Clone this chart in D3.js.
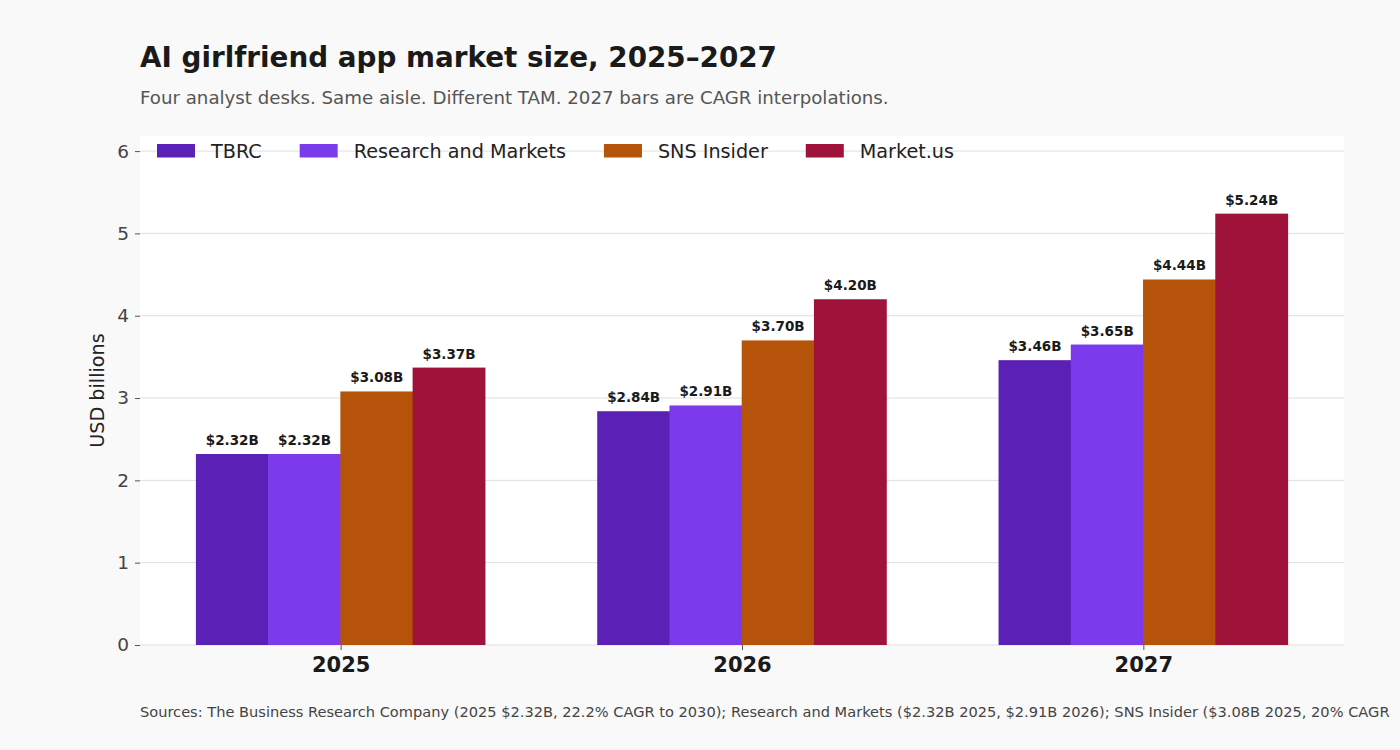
<!DOCTYPE html>
<html><head><meta charset="utf-8">
<script src="https://cdn.jsdelivr.net/npm/d3@7"></script>
<style>
html,body{margin:0;padding:0;background:#f9f9f9;}
svg{display:block;font-family:"DejaVu Sans",sans-serif;}
</style></head>
<body>
<svg id="chart" width="1400" height="750"></svg>
<script>
const years = ["2025", "2026", "2027"];
const seriesNames = ["TBRC", "Research and Markets", "SNS Insider", "Market.us"];
const seriesColors = ["#5b21b6", "#7c3aed", "#b45309", "#9f1239"];
const tbrc = [2.32, 2.84, 3.46];
const researchAndMarkets = [2.32, 2.91, 3.65];
const snsInsider = [3.08, 3.70, 4.44];
const marketUs = [3.37, 4.20, 5.24];
const yTicks = [0, 1, 2, 3, 4, 5, 6];
const titleText = "AI girlfriend app market size, 2025–2027";
const subtitleText = "Four analyst desks. Same aisle. Different TAM. 2027 bars are CAGR interpolations.";
const sourceText = "Sources: The Business Research Company (2025 $2.32B, 22.2% CAGR to 2030); Research and Markets ($2.32B 2025, $2.91B 2026); SNS Insider ($3.08B 2025, 20% CAGR";

const seriesValues = [tbrc, researchAndMarkets, snsInsider, marketUs];

const svg = d3.select("#chart");
const plot = {left: 140, right: 1344, top: 136, bottom: 645};

const x = d3.scaleLinear().domain([-0.5, years.length - 0.5]).range([plot.left, plot.right]);
const y = d3.scaleLinear().domain([0, 5.24 * 1.18]).range([plot.bottom, plot.top]);
const barW = 0.18;

svg.append("rect").attr("x", plot.left).attr("y", plot.top)
  .attr("width", plot.right - plot.left).attr("height", plot.bottom - plot.top)
  .attr("fill", "#ffffff");

// grid
svg.append("g").selectAll("line").data(yTicks).join("line")
  .attr("x1", plot.left).attr("x2", plot.right)
  .attr("y1", d => y(d)).attr("y2", d => y(d))
  .attr("stroke", "#dedede").attr("stroke-width", 1);

// y axis
const yAxis = svg.append("g").attr("transform", `translate(${plot.left},0)`)
  .call(d3.axisLeft(y).tickValues(yTicks).tickSize(5).tickPadding(6).tickFormat(d3.format("d")));
yAxis.select(".domain").remove();
yAxis.selectAll(".tick line").attr("stroke", "#555");
yAxis.selectAll(".tick text").attr("font-size", 18.5).attr("fill", "#444").attr("font-family", "DejaVu Sans");

// x axis
const xAxis = svg.append("g").attr("transform", `translate(0,${plot.bottom})`)
  .call(d3.axisBottom(x).tickValues(years.map((d, i) => i)).tickSize(5).tickPadding(7).tickFormat(i => years[i]));
xAxis.select(".domain").remove();
xAxis.selectAll(".tick line").attr("stroke", "#555");
xAxis.selectAll(".tick text").attr("font-size", 21).attr("font-weight", "bold").attr("fill", "#1a1a1a").attr("font-family", "DejaVu Sans");

// bars
seriesValues.forEach((vals, s) => {
  const offset = (s - 1.5) * barW;
  const g = svg.append("g");
  g.selectAll("rect").data(vals).join("rect")
    .attr("x", (d, i) => x(i + offset - barW / 2) - 0.3)
    .attr("width", x(barW) - x(0) + 0.6)
    .attr("y", d => y(d))
    .attr("height", d => y(0) - y(d))
    .attr("fill", seriesColors[s]);
  g.selectAll("text").data(vals).join("text")
    .attr("x", (d, i) => x(i + offset))
    .attr("y", d => y(d) - 9)
    .attr("text-anchor", "middle")
    .attr("font-size", 13.5).attr("font-weight", "bold").attr("fill", "#1a1a1a")
    .text(d => "$" + d.toFixed(2) + "B");
});

// legend
const legend = svg.append("g");
let lx = 157;
seriesNames.forEach((name, s) => {
  legend.append("rect").attr("x", lx).attr("y", 144).attr("width", 38).attr("height", 13.5).attr("fill", seriesColors[s]);
  const t = legend.append("text").attr("x", lx + 54).attr("y", 157.5)
    .attr("font-size", 19.2).attr("fill", "#222").text(name);
  lx += 54 + t.node().getComputedTextLength() + 38;
});

// y label
svg.append("text").attr("transform", `translate(104,${(plot.top + plot.bottom) / 2}) rotate(-90)`)
  .attr("text-anchor", "middle").attr("font-size", 19.2).attr("fill", "#222").text("USD billions");

// titles
svg.append("text").attr("x", 140).attr("y", 67).attr("font-size", 27.8).attr("font-weight", "bold").attr("fill", "#1a1a1a").text(titleText);
svg.append("text").attr("x", 140).attr("y", 104).attr("font-size", 18.2).attr("fill", "#555").text(subtitleText);
svg.append("text").attr("x", 140).attr("y", 717).attr("font-size", 14.6).attr("fill", "#444").text(sourceText);
</script>
</body></html>
